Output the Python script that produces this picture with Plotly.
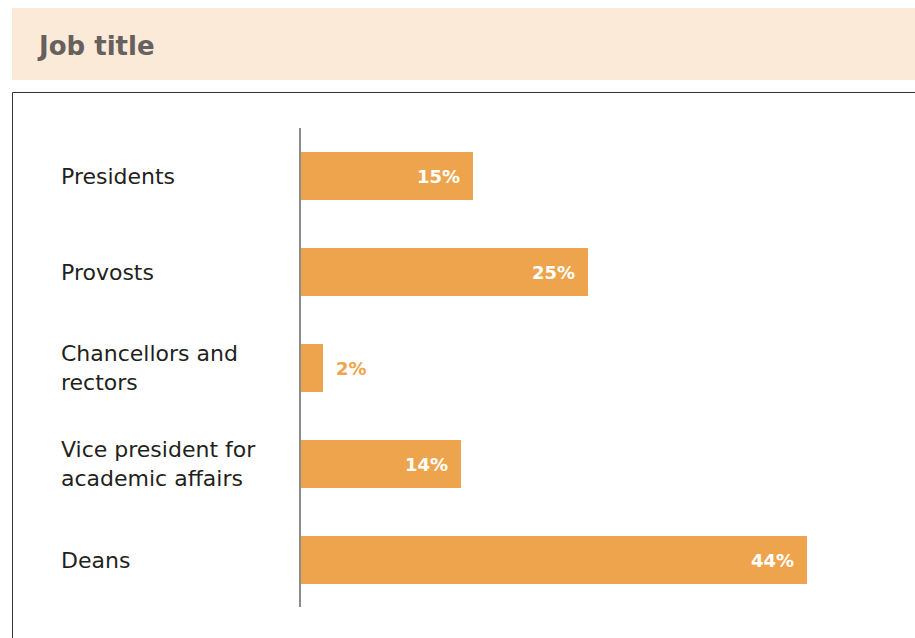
import plotly.graph_objects as go

categories = ["Presidents", "Provosts", "Chancellors and<br>rectors",
              "Vice president for<br>academic affairs", "Deans"]
values = [15, 25, 2, 14, 44]
labels = ["15%", "25%", "2%", "14%", "44%"]

OFF = 0
W, H = 915, 638
L, T = 300 - OFF, 128 - OFF
pw = 576           # 0..50 %
ph = 480           # 5 rows of 96px
R = W - L - pw
B = H - T - ph

def px(x):
    return (x - OFF - L) / pw

def py(y):
    return (H - B - (y - OFF)) / ph

BAR = "#EDA44C"
FONT = "DejaVu Sans"

positions = list(range(len(categories)))
inside = [v >= 5 for v in values]

fig = go.Figure()
fig.add_trace(go.Bar(
    x=values, y=positions, orientation="h", width=0.5,
    marker=dict(color=BAR, line=dict(width=0)),
    hoverinfo="skip",
))

annotations = []
for i, c in enumerate(categories):
    annotations.append(dict(
        x=px(59), y=i, xref="paper", yref="y", text=c, showarrow=False,
        xanchor="left", yanchor="middle", align="left",
        font=dict(family=FONT, size=22, color="#231F20"),
    ))
for i, (v, t, ins) in enumerate(zip(values, labels, inside)):
    annotations.append(dict(
        x=v, y=i, xref="x", yref="y", text=f"<b>{t}</b>", showarrow=False,
        xanchor="right" if ins else "left", yanchor="middle",
        xshift=-11 if ins else 11,
        font=dict(family=FONT, size=18, color="#FFFFFF" if ins else BAR),
    ))
annotations.append(dict(
    x=px(35), y=py(46), xref="paper", yref="paper", text="<b>Job title</b>",
    showarrow=False, xanchor="left", yanchor="middle",
    font=dict(family=FONT, size=26, color="#66605E"),
))

shapes = [
    dict(type="rect", xref="paper", yref="paper", x0=px(12), x1=px(960),
         y0=py(80), y1=py(8), fillcolor="#FBEAD7", line=dict(width=0), layer="below"),
    dict(type="rect", xref="paper", yref="paper", x0=px(12.5), x1=px(980),
         y0=py(700), y1=py(92.5), fillcolor="rgba(0,0,0,0)",
         line=dict(color="#333333", width=1), layer="below"),
    dict(type="line", xref="paper", yref="paper", x0=px(300), x1=px(300),
         y0=py(607), y1=py(128), line=dict(color="#8C8C8C", width=2)),
]

fig.update_layout(
    width=W, height=H, margin=dict(l=L, r=R, t=T, b=B),
    paper_bgcolor="white", plot_bgcolor="white",
    showlegend=False, bargap=0,
    xaxis=dict(range=[0, 50], visible=False, fixedrange=True),
    yaxis=dict(range=[4.5, -0.5], visible=False, fixedrange=True),
    annotations=annotations, shapes=shapes,
)

fig.write_html(
    "out.html",
    config={"displayModeBar": False},
    post_script="document.body.style.margin='0';document.body.style.overflow='hidden';",
)
